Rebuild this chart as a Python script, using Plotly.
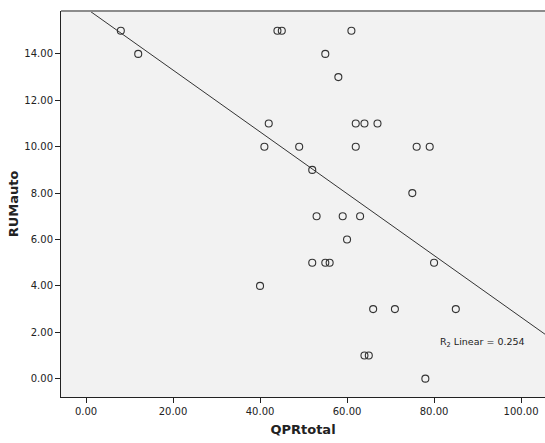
import numpy as np
import plotly.graph_objects as go

# Data
qpr_total = [8, 12, 44, 45, 61, 55, 58, 42, 62, 64, 67, 41, 49, 62, 76, 79, 52,
             75, 53, 59, 63, 60, 52, 55, 56, 80, 40, 66, 71, 85, 64, 65, 78]
rum_auto = [15, 14, 15, 15, 15, 14, 13, 11, 11, 11, 11, 10, 10, 10, 10, 10, 9,
            8, 7, 7, 7, 6, 5, 5, 5, 5, 4, 3, 3, 3, 1, 1, 0]
x_ticks = [0, 20, 40, 60, 80, 100]
y_ticks = [0, 2, 4, 6, 8, 10, 12, 14]
r2_label = "R<sub>2</sub> Linear = 0.254"

x_range = [-5.75, 105.5]
y_range = [-0.79, 15.85]

xa = np.array(qpr_total, dtype=float)
ya = np.array(rum_auto, dtype=float)
slope, intercept = np.polyfit(xa, ya, 1)
line_x = np.array(x_range)
line_y = intercept + slope * line_x

fig = go.Figure()
fig.add_trace(go.Scatter(
    x=line_x, y=line_y, mode="lines",
    line=dict(color="#333333", width=1), hoverinfo="skip", showlegend=False))
fig.add_trace(go.Scatter(
    x=qpr_total, y=rum_auto, mode="markers",
    marker=dict(symbol="circle-open", size=7, color="#333333", line=dict(width=1.1)),
    showlegend=False))

fig.add_annotation(
    x=0.962, y=0.14, xref="paper", yref="paper", text=r2_label, showarrow=False,
    xanchor="right", yanchor="middle",
    font=dict(family="DejaVu Sans", size=9.5, color="#222222"))

fig.add_shape(type="line", xref="paper", yref="paper", x0=0, x1=1, y0=1, y1=1,
              line=dict(color="#8c8c8c", width=2))

font_fam = "DejaVu Sans"
fig.update_layout(
    width=545, height=443,
    margin=dict(l=61, r=0, t=11, b=46),
    paper_bgcolor="white", plot_bgcolor="#f2f2f2",
    font=dict(family=font_fam, size=10, color="#222222"),
    xaxis=dict(
        range=x_range, tickvals=x_ticks, tickformat=".2f",
        showgrid=False, zeroline=False, showline=True, linecolor="#222222",
        linewidth=1, ticks="outside", ticklen=5, tickcolor="#222222",
        tickfont=dict(size=10, color="#222222"),
        title=dict(text="<b>QPRtotal</b>", font=dict(size=13, color="#222222"), standoff=8)),
    yaxis=dict(
        range=y_range, tickvals=y_ticks, tickformat=".2f",
        showgrid=False, zeroline=False, showline=True, linecolor="#222222",
        linewidth=1, ticks="outside", ticklen=5, tickcolor="#222222",
        tickfont=dict(size=10, color="#222222"),
        title=dict(text="<b>RUMauto</b>", font=dict(size=13, color="#222222"), standoff=2)),
)

fig.write_html("out.html")
